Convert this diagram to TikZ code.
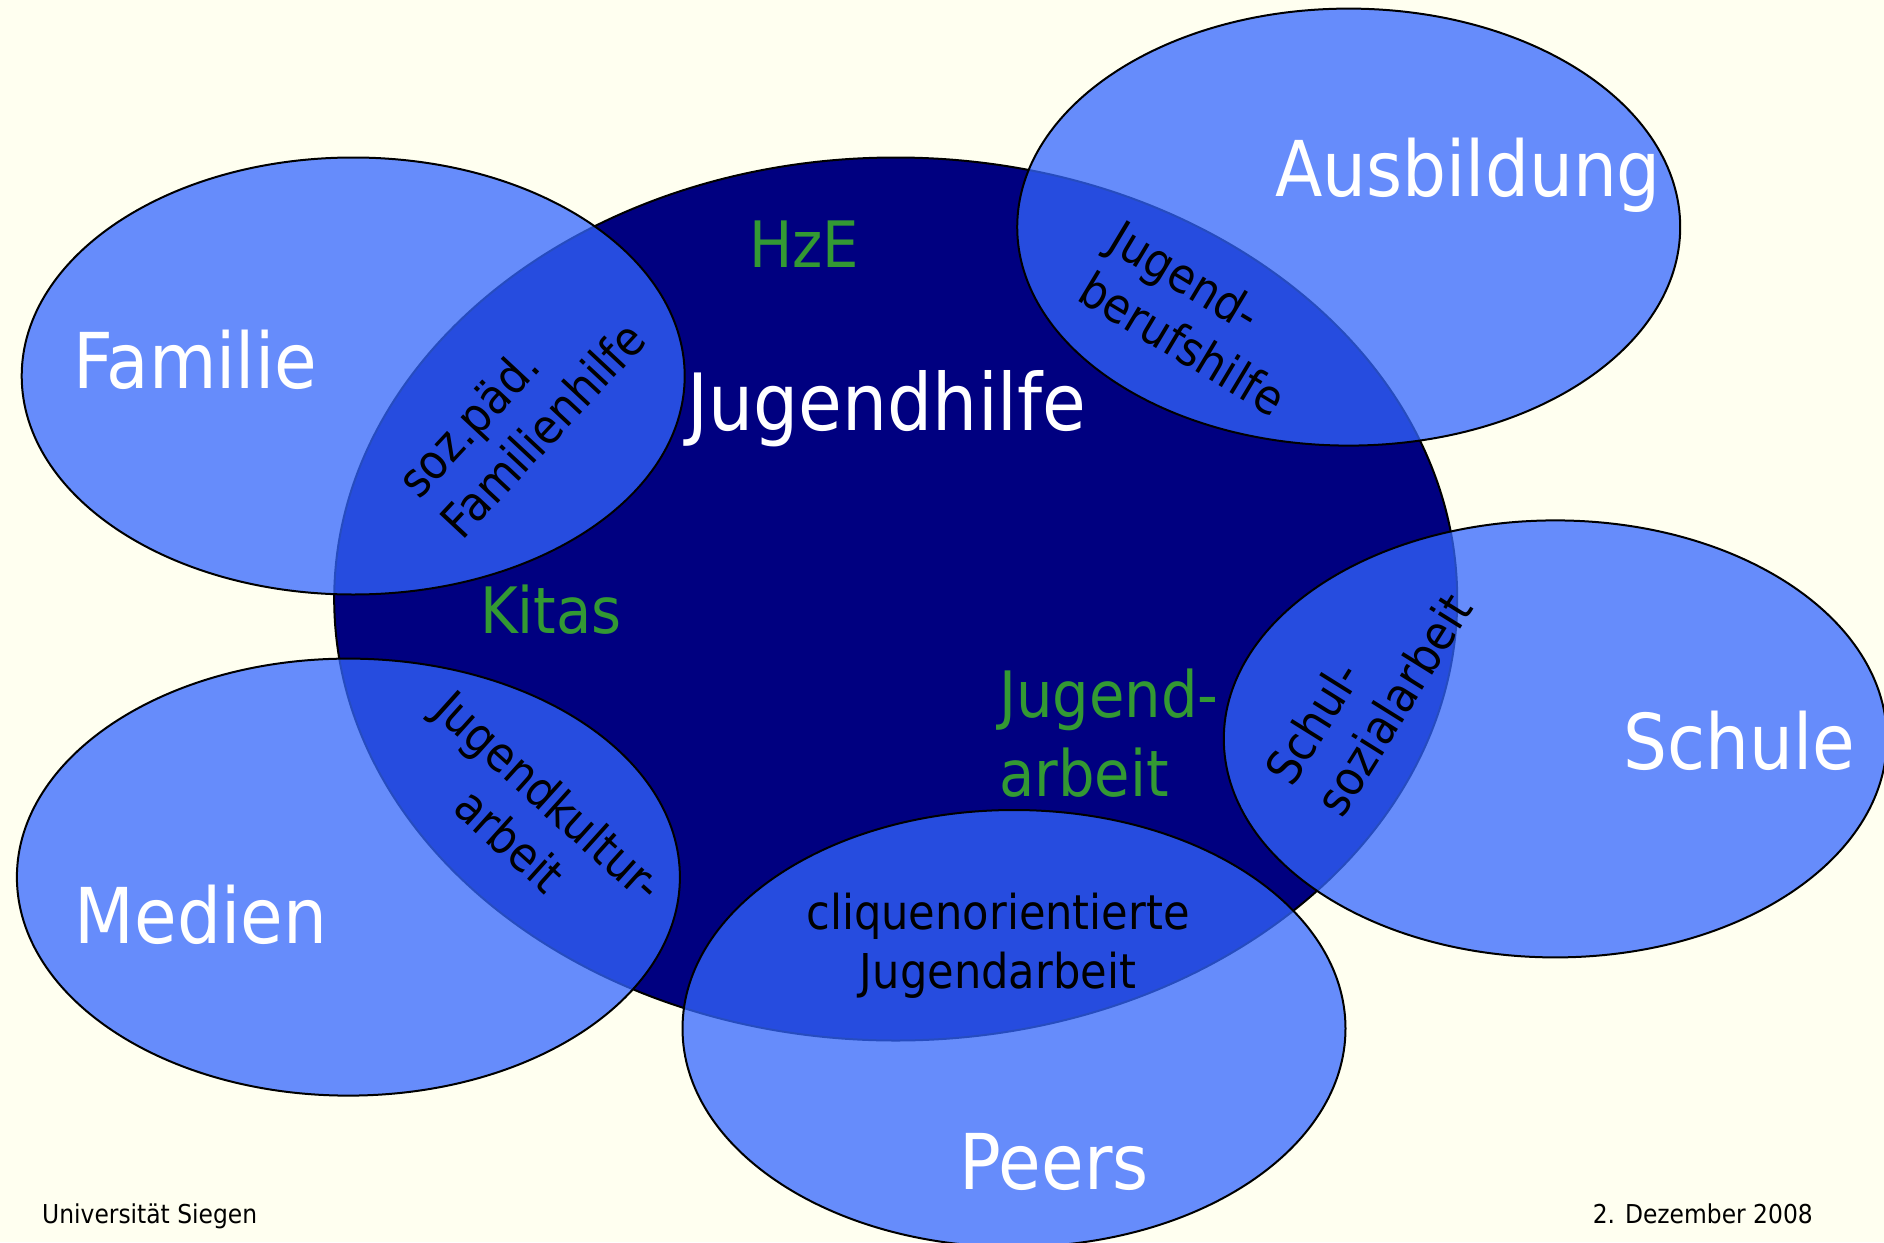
\documentclass[tikz,border=0pt]{standalone}
\usepackage{fontspec}
\setmainfont{DejaVu Sans}[FakeStretch=0.9]
\usetikzlibrary{shapes.geometric}
\definecolor{bgyellow}{HTML}{FFFFF0}
\definecolor{jhnavy}{HTML}{000080}
\definecolor{satblue}{HTML}{3366FF}
\definecolor{lblgreen}{HTML}{339933}
\begin{document}
\begin{tikzpicture}[x=1pt,y=-1pt,
  bigcircle/.style={ellipse, draw=black, line width=2pt, fill=jhnavy, minimum width=1123pt, minimum height=883pt, inner sep=0pt},
  satellite/.style={ellipse, draw=black, line width=2pt, fill=satblue, fill opacity=0.75, minimum width=663pt, minimum height=437pt, inner sep=0pt},
  bigword/.style={text=white, font=\fontsize{77}{92}\selectfont, inner sep=0pt, anchor=base},
  greenword/.style={text=lblgreen, font=\fontsize{64}{79}\selectfont, inner sep=0pt},
  blackword/.style={text=black, font=\fontsize{48}{59}\selectfont, inner sep=0pt},
  footer/.style={text=black, font=\fontsize{26}{31}\selectfont, inner sep=0pt, anchor=base}]
\useasboundingbox (0,0) rectangle (1884,1242);
\fill[bgyellow] (0,0) rectangle (1884,1242);
\node[bigcircle] (jh) at (895.7,599) {};
\node[satellite] (fam) at (353.2,376) {};
\node[satellite] (aus) at (1348.7,227.1) {};
\node[satellite] (sch) at (1555.3,738.9) {};
\node[satellite] (med) at (348.4,877.1) {};
\node[satellite] (peer) at (1014,1028.5) {};
\node[bigword, font=\fontsize{79}{94}\selectfont] (tjh) at (887,430) {Jugendhilfe};
\node[bigword] (tfam) at (195,388) {Familie};
\node[bigword] (taus) at (1468,196) {Ausbildung};
\node[bigword] (tsch) at (1739,769) {Schule};
\node[bigword] (tmed) at (201,943) {Medien};
\node[bigword] (tpeer) at (1054,1189) {Peers};
\node[greenword, anchor=base] (thze) at (804,267) {HzE};
\node[greenword, anchor=base] (tkita) at (551,633) {Kitas};
\node[greenword, anchor=west, align=left] (tja) at (999,733) {Jugend-\\arbeit};
\node[blackword, align=center] (tclique) at (998,946) {cliquenorientierte\\Jugendarbeit};
\node[blackword, align=left, rotate=47] (tsoz) at (521,409) {soz.päd.\\Familienhilfe};
\node[blackword, align=left, rotate=-31] (tjbh) at (1198,318) {Jugend-\\berufshilfe};
\node[blackword, align=left, rotate=58] (tssa) at (1368,689) {Schul-\\sozialarbeit};
\node[blackword, align=center, rotate=-42] (tjka) at (530,818) {Jugendkultur-\\arbeit};
\node[footer, anchor=base west] (uni) at (42,1223) {Universität Siegen};
\node[footer, anchor=base east] (date) at (1813,1223) {2. Dezember 2008};
\end{tikzpicture}
\end{document}
